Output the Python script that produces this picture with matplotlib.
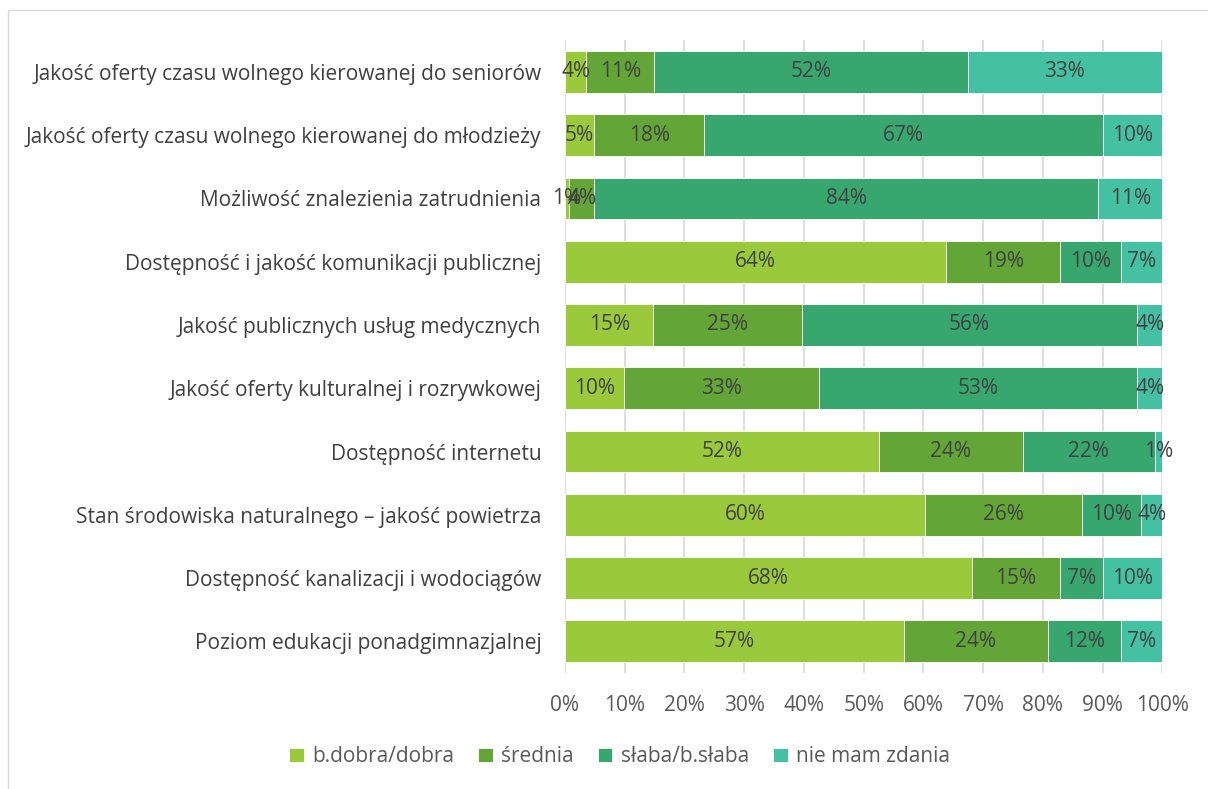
import matplotlib
matplotlib.use("Agg")
import matplotlib.pyplot as plt
from matplotlib.patches import Rectangle
import numpy as np

plt.rcParams['font.family'] = ['Open Sans', 'DejaVu Sans']

categories = [
    "Jakość oferty czasu wolnego kierowanej do seniorów",
    "Jakość oferty czasu wolnego kierowanej do młodzieży",
    "Możliwość znalezienia zatrudnienia",
    "Dostępność i jakość komunikacji publicznej",
    "Jakość publicznych usług medycznych",
    "Jakość oferty kulturalnej i rozrywkowej",
    "Dostępność internetu",
    "Stan środowiska naturalnego – jakość powietrza",
    "Dostępność kanalizacji i wodociągów",
    "Poziom edukacji ponadgimnazjalnej",
]
series_names = ["b.dobra/dobra", "średnia", "słaba/b.słaba", "nie mam zdania"]
dobra   = [3.6, 4.9, 0.7, 63.8, 14.8, 9.8, 52.5, 60.3, 68.1, 56.8]
srednia = [11.3, 18.4, 4.2, 19.1, 24.8, 32.7, 24.1, 26.2, 14.8, 24.0]
slaba   = [52.5, 66.8, 84.4, 10.1, 56.2, 53.3, 22.1, 10.0, 7.2, 12.2]
brak    = [32.6, 9.9, 10.7, 7.0, 4.2, 4.2, 1.3, 3.6, 9.9, 7.0]
xticks = [0, 10, 20, 30, 40, 50, 60, 70, 80, 90, 100]

colors = ["#9ACA3C", "#63A537", "#37A76F", "#44C1A3"]
text_color = "#404040"
fs = 15

fig = plt.figure(figsize=(12.08, 7.89), dpi=100)
ax = fig.add_axes([0.4677, 0.147, 0.4945, 0.802])

data = np.array([dobra, srednia, slaba, brak])
y = np.arange(len(categories))
left = np.zeros(len(categories))
for vals, name, col in zip(data, series_names, colors):
    ax.barh(y, vals, left=left, height=0.66, color=col, label=name,
            edgecolor="white", linewidth=0.6, zorder=3)
    for yi, (l, v) in enumerate(zip(left, vals)):
        ax.text(l + v / 2, yi, f"{v:.0f}%", ha="center", va="center",
                fontsize=fs, color=text_color, zorder=4)
    left += vals

ax.set_xlim(0, 100)
ax.set_ylim(len(categories) - 0.5, -0.5)
ax.set_yticks(y)
ax.set_yticklabels(categories, fontsize=fs, color=text_color)
ax.set_xticks(xticks)
ax.set_xticklabels([f"{t}%" for t in xticks], fontsize=fs, color="#595959")
ax.tick_params(axis="y", length=0, pad=17)
ax.tick_params(axis="x", length=0, pad=16)
ax.grid(axis="x", color="#D9D9D9", linewidth=1.2, zorder=0)
for s in ax.spines.values():
    s.set_visible(False)

leg = fig.legend(loc="center", bbox_to_anchor=(0.513, 0.041), ncol=4,
                 frameon=False, fontsize=fs, handlelength=0.7, handleheight=0.7,
                 columnspacing=1.15, handletextpad=0.4)
for t in leg.get_texts():
    t.set_color("#595959")

# light frame around the chart area
fig.patches.append(Rectangle((0.0066, -0.01), 1.1, 0.997, transform=fig.transFigure,
                             fill=False, edgecolor="#D9D9D9", linewidth=1.0))

fig.savefig("out.png", dpi=100)
